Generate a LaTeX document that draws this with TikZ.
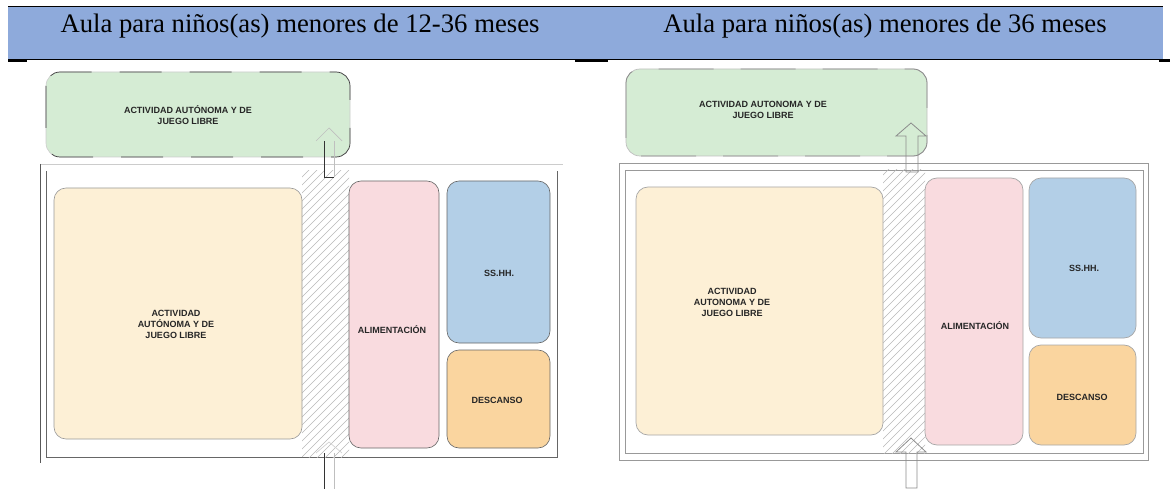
\documentclass[tikz,border=0pt]{standalone}
\usepackage{fontspec}
\setmainfont{Liberation Serif}
\newfontfamily\lblfont{Liberation Sans}
\definecolor{hdrblue}{HTML}{8EAADB}
\definecolor{cgreen}{HTML}{D5ECD4}
\definecolor{cbeige}{HTML}{FDF0D6}
\definecolor{cpink}{HTML}{F9DBDF}
\definecolor{cblue}{HTML}{B3CFE7}
\definecolor{corange}{HTML}{FAD59F}
\begin{document}
\begin{tikzpicture}[x=1pt,y=-1pt,
  lbl/.style={font=\lblfont\bfseries\fontsize{9}{11}\selectfont, align=center, inner sep=0pt, text=black!85},
  ttl/.style={font=\fontsize{26.7}{30}\selectfont, anchor=base, inner sep=0pt},
  boxL/.style={draw=black!60, line width=0.6pt, rounded corners=12pt, inner sep=0pt, outer sep=0pt},
  boxR/.style={draw=black!35, line width=0.7pt, rounded corners=12pt, inner sep=0pt, outer sep=0pt},
  hatchln/.style={draw=black!28, line width=0.5pt},
  darkln/.style={draw=black!80, line width=0.8pt},
  lightln/.style={draw=black!25, line width=0.7pt},
  roomR/.style={draw=black!40, line width=0.8pt},
  arrR/.style={draw=black!45, line width=0.8pt},
]
\useasboundingbox (0,0) rectangle (1170,489);

% ---------- header ----------
\fill[hdrblue] (8,7) rectangle (1163,60);
\draw[line width=1.5pt] (8,6.5) -- (1163,6.5);
\draw[line width=1pt] (8,60) -- (1170,60);
\draw[line width=2pt] (8,61) -- (27,61);
\draw[line width=2pt] (575,61) -- (608,61);
\draw[line width=2pt] (1159,61) -- (1170,61);
\node[ttl] (t1) at (300,33) {Aula para niños(as) menores de 12-36 meses};
\node[ttl] (t2) at (885,33) {Aula para niños(as) menores de 36 meses};

% ================= LEFT PANEL =================
% room lines
\draw[draw=black!20, line width=0.7pt] (40,164) -- (563,164);
\draw[draw=black!65, line width=0.8pt] (40,164) -- (40,463);
\draw[draw=black!60, line width=0.8pt] (46,171) -- (46,457) -- (557,457) -- (557,171);
% hatch corridor
\begin{scope}
\clip (302,171) rectangle (349,457);
\foreach \k in {0,8,...,352} \draw[hatchln] (300,171+\k) -- ++(60,-60);
\end{scope}
% green box
\node[boxL, draw=black!20, fill=cgreen, rounded corners=14pt, minimum width=304pt, minimum height=85pt] (gL) at (198,114.5) {};
\draw[draw=black!75, line width=0.7pt, rounded corners=14pt, dash pattern=on 42pt off 28pt] (gL.north west) rectangle (gL.south east);
\node[lbl] (gLt) at (188,115) {ACTIVIDAD AUTÓNOMA Y DE\\JUEGO LIBRE};
% rooms
\node[boxL, fill=cbeige, draw=black!40, minimum width=248pt, minimum height=251pt] (bL) at (178,313.5) {};
\node[lbl] (bLt) at (176,324) {ACTIVIDAD\\AUTÓNOMA Y DE\\JUEGO LIBRE};
\node[boxL, fill=cpink, minimum width=90pt, minimum height=267pt] (pL) at (394,314.5) {};
\node[lbl] (pLt) at (392,330) {ALIMENTACIÓN};
\node[boxL, fill=cblue, minimum width=103pt, minimum height=162pt] (sL) at (498.5,262) {};
\node[lbl] (sLt) at (499,273) {SS.HH.};
\node[boxL, fill=corange, minimum width=103pt, minimum height=98pt] (oL) at (498.5,399) {};
\node[lbl] (oLt) at (497,400) {DESCANSO};
% arrows
\draw[lightln] (316,141) -- (329,128) -- (342,141);
\draw[lightln] (334,141) -- (334,177);
\draw[darkln] (324,141) -- (324,177) -- (334,177);
\draw[lightln, draw=black!18] (316,453) -- (329,442) -- (342,453);
\draw[lightln] (334,453) -- (334,489);
\draw[darkln] (324,453) -- (324,489);

% ================= RIGHT PANEL =================
\draw[roomR] (619,163) rectangle (1148,460);
\draw[roomR] (625,170) rectangle (1143,453);
\begin{scope}
\clip (883,170) rectangle (925,453);
\foreach \k in {0,8,...,340} \draw[hatchln] (880,170+\k) -- ++(60,-60);
\end{scope}
\node[boxR, draw=black!25, fill=cgreen, rounded corners=14pt, minimum width=301pt, minimum height=87pt] (gR) at (776.5,112.5) {};
\draw[draw=black!45, line width=0.8pt, rounded corners=14pt, dash pattern=on 55pt off 27pt] (gR.north west) rectangle (gR.south east);
\node[lbl] (gRt) at (763,109.5) {ACTIVIDAD AUTONOMA Y DE\\JUEGO LIBRE};
\node[boxR, fill=cbeige, minimum width=247pt, minimum height=248pt] (bR) at (759.5,311) {};
\node[lbl] (bRt) at (732,302) {ACTIVIDAD\\AUTONOMA Y DE\\JUEGO LIBRE};
\node[boxR, fill=cpink, minimum width=98pt, minimum height=267pt] (pR) at (974,311.5) {};
\node[lbl] (pRt) at (975,326) {ALIMENTACIÓN};
\node[boxR, fill=cblue, minimum width=107pt, minimum height=160pt] (sR) at (1082.5,258) {};
\node[lbl] (sRt) at (1084,268) {SS.HH.};
\node[boxR, fill=corange, minimum width=107pt, minimum height=100pt] (oR) at (1082.5,395) {};
\node[lbl] (oRt) at (1082,397) {DESCANSO};
% block arrows
\draw[arrR] (906,172) -- (906,136) -- (896,136) -- (911,123) -- (926,136) -- (918,136) -- (918,172) -- cycle;
\draw[arrR] (906,488) -- (906,452) -- (896,452) -- (911,438) -- (926,452) -- (917,452) -- (917,488) -- cycle;
\end{tikzpicture}
\end{document}
